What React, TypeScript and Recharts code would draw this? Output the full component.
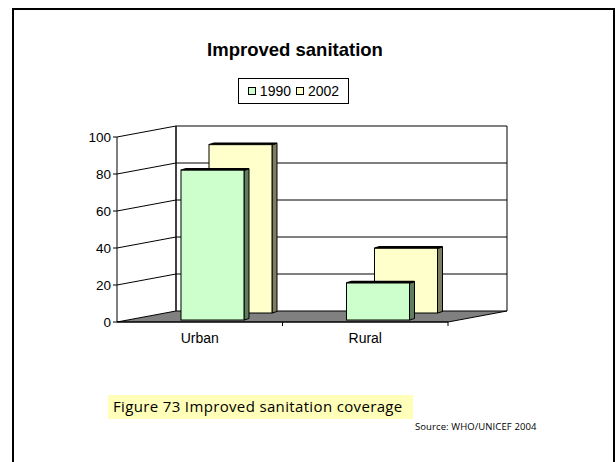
import React from 'react';
import { BarChart, Bar, XAxis, YAxis, CartesianGrid, Legend } from 'recharts';

// values (percent coverage)
const categories = ['Urban', 'Rural'];
const values1990 = [81, 20];
const values2002 = [91, 35];
const yTicks = [0, 20, 40, 60, 80, 100];

const data = categories.map((name, i) => ({ name, y1990: values1990[i], y2002: values2002[i] }));

// depth offset of the back wall relative to the front plane (px)
const WALL_DX = 59;
const WALL_DY = -11;

const FONT = '"Liberation Sans", Arial, sans-serif';
const CAPTION_FONT = '"Comic Sans MS", "Open Sans", sans-serif';

// 3d-ish column: front face + right side + thin top, shifted back by its depth row
const makeBarShape = (face: string, side: string, dx: number, dy: number) => (props: any) => {
  const { x, y, width, height } = props;
  const left = x + dx;
  const top = y + dy;
  const right = left + width;
  const bottom = top + height;
  const sx = 5;
  const sy = -1.5;
  return (
    <g>
      <polygon
        points={`${right},${top} ${right + sx},${top + sy} ${right + sx},${bottom + sy} ${right},${bottom}`}
        fill={side}
        stroke="#000"
        strokeWidth={1}
      />
      <polygon
        points={`${left},${top} ${left + sx},${top + sy} ${right + sx},${top + sy} ${right},${top}`}
        fill={face}
        stroke="#000"
        strokeWidth={1.5}
      />
      <rect x={left} y={top} width={width} height={height} fill={face} stroke="#000" strokeWidth={1} />
    </g>
  );
};

// grid lines run along the side wall and then across the back wall; the 0 line becomes the floor
const gridLine = (props: any) => {
  const { x1, x2, y1 } = props;
  const plotTop = typeof props.y === 'number' ? props.y : 137;
  const plotH = typeof props.height === 'number' ? props.height : 185;
  const bx1 = x1 + WALL_DX;
  const bx2 = x2 + WALL_DX;
  const by = y1 + WALL_DY;
  if (Math.abs(y1 - (plotTop + plotH)) < 0.5) {
    const n = categories.length;
    const bounds = Array.from({ length: n }, (_, i) => x1 + ((x2 - x1) * (i + 1)) / n);
    return (
      <g key={props.key}>
        <polygon points={`${x1},${y1} ${bx1},${by} ${bx2},${by} ${x2},${y1}`} fill="#808080" stroke="#000" strokeWidth={1} />
        <line x1={bx1} y1={plotTop + WALL_DY} x2={bx1} y2={by} stroke="#000" strokeWidth={1.5} />
        <line x1={bx2} y1={plotTop + WALL_DY} x2={bx2} y2={by} stroke="#000" strokeWidth={1} />
        {bounds.map((bx, i) => (
          <line key={i} x1={bx} y1={y1} x2={bx} y2={y1 + 4} stroke="#000" strokeWidth={1} />
        ))}
      </g>
    );
  }
  return (
    <polyline
      key={props.key}
      points={`${x1},${y1} ${bx1},${by} ${bx2},${by}`}
      fill="none"
      stroke="#000"
      strokeWidth={1}
    />
  );
};

const LegendBox = (props: any) => {
  const items = [...(props.payload || [])].sort((a: any, b: any) => String(a.value).localeCompare(String(b.value)));
  return (
    <div
      style={{
        boxSizing: 'border-box',
        width: 111,
        height: 26,
        border: '1px solid #000',
        background: '#fff',
        display: 'flex',
        alignItems: 'center',
        justifyContent: 'center',
        fontFamily: FONT,
        fontSize: 14,
        color: '#000',
        lineHeight: '18px',
        whiteSpace: 'nowrap',
      }}
    >
      {items.map((it: any, i: number) => (
        <span key={i} style={{ display: 'flex', alignItems: 'center', marginRight: i === items.length - 1 ? 0 : 5 }}>
          <span
            style={{
              display: 'inline-block',
              width: 6,
              height: 6,
              border: '1px solid #000',
              background: it.color,
              marginRight: 4,
            }}
          />
          {it.value}
        </span>
      ))}
    </div>
  );
};

export default function App() {
  return (
    <div style={{ position: 'absolute', left: 0, top: 0, width: 616, height: 462, overflow: 'hidden', background: '#fff' }}>
      <div
        style={{
          position: 'absolute',
          left: 12,
          top: 8,
          width: 599,
          height: 480,
          border: '2px solid #000',
        }}
      />
      <div
        style={{
          position: 'absolute',
          left: 0,
          width: 590,
          top: 39,
          textAlign: 'center',
          fontFamily: FONT,
          fontWeight: 'bold',
          fontSize: 18.5,
          color: '#000',
        }}
      >
        Improved sanitation
      </div>

      <div style={{ position: 'absolute', left: 0, top: 0 }}>
        <BarChart
          width={616}
          height={462}
          data={data}
          margin={{ top: 137, right: 168, bottom: 110, left: 77 }}
          barSize={63}
          barGap={-63}
          style={{ fontFamily: FONT }}
        >
          <CartesianGrid vertical={false} horizontal={gridLine} />
          <XAxis
            dataKey="name"
            height={30}
            tickLine={false}
            tickSize={6}
            tickMargin={5}
            axisLine={{ stroke: '#000' }}
            tick={{ fill: '#000', fontSize: 14 }}
          />
          <YAxis
            width={40}
            domain={[0, 100]}
            ticks={yTicks}
            interval={0}
            tickSize={4}
            tickMargin={2}
            axisLine={{ stroke: '#000' }}
            tickLine={{ stroke: '#000' }}
            tick={{ fill: '#000', fontSize: 13.5 }}
          />
          <Legend
            verticalAlign="middle"
            align="center"
            content={LegendBox}
            wrapperStyle={{ position: 'absolute', left: 238, top: 78, width: 'auto' }}
          />
          <Bar
            dataKey="y2002"
            name="2002"
            fill="#ffffcc"
            isAnimationActive={false}
            shape={makeBarShape('#ffffcc', '#7e7e5e', 41, -9)}
          />
          <Bar
            dataKey="y1990"
            name="1990"
            fill="#ccffcc"
            isAnimationActive={false}
            shape={makeBarShape('#ccffcc', '#5e7e5e', 13, -2)}
          />
        </BarChart>
      </div>

      <div
        style={{
          position: 'absolute',
          left: 108,
          top: 395,
          width: 305,
          height: 24,
          background: '#ffffb9',
        }}
      />
      <div
        style={{
          position: 'absolute',
          left: 113,
          top: 396,
          fontFamily: CAPTION_FONT,
          fontSize: 15,
          letterSpacing: 0.35,
          color: '#000',
          whiteSpace: 'nowrap',
        }}
      >
        Figure 73 Improved sanitation coverage
      </div>
      <div
        style={{
          position: 'absolute',
          left: 415,
          top: 420,
          fontFamily: CAPTION_FONT,
          fontSize: 9.5,
          letterSpacing: 0.1,
          color: '#000',
          whiteSpace: 'nowrap',
        }}
      >
        Source: WHO/UNICEF 2004
      </div>
    </div>
  );
}
